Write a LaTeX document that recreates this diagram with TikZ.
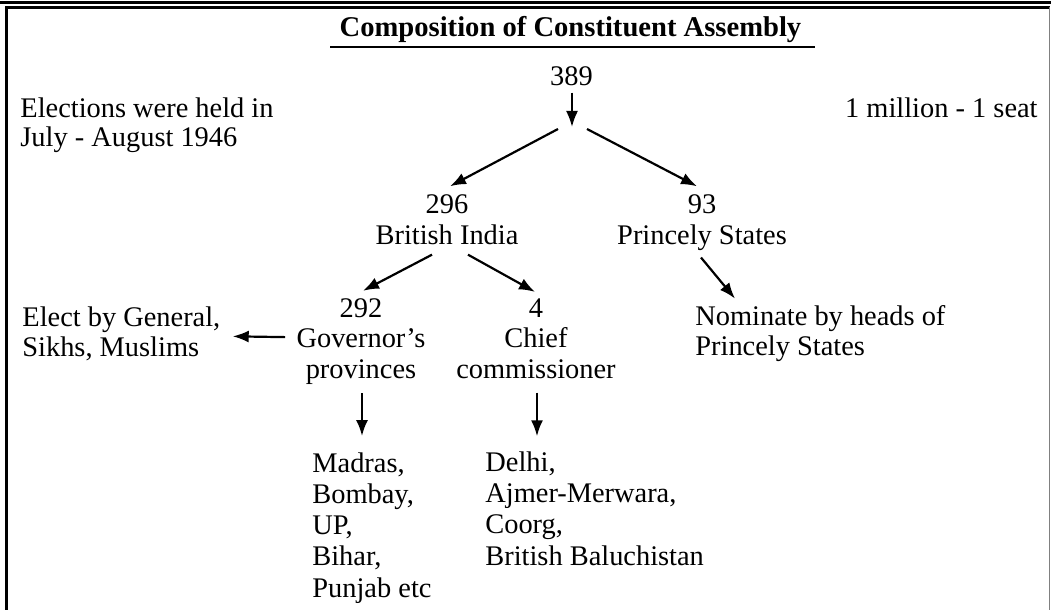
\documentclass[tikz,border=0pt]{standalone}
\usepackage{fontspec}
\setmainfont{Liberation Serif}
\usetikzlibrary{arrows.meta}
\usetikzlibrary{calc}
\tikzset{>={Latex[length=8pt,width=6pt]}}
\tikzset{
    tree/.style={inner sep=0pt, anchor=base, align=center, font=\fontsize{14.2}{15.5}\selectfont},
    side/.style={inner sep=0pt, anchor=base west, align=left, font=\fontsize{14.2}{15}\selectfont},
    seats arrow/.style={->, line width=1.1pt}
}

\begin{document}
\begin{tikzpicture}[x=0.5pt, y=-0.5pt]
    \useasboundingbox (0, 0) rectangle (1051, 610);
    % frame
    \draw[line width=1.5pt] (0, 2.5) -- (1051, 2.5);
    \draw[line width=1.5pt] (6.5, 612) -- (6.5, 7.5) -- (1049.5, 7.5);
    \draw[gray, line width=0.75pt] (1049.5, 7.5) -- (1049.5, 612);

    \node[tree, font=\fontsize{14.3}{15.5}\selectfont\bfseries] (title) at (570.5, 37) {Composition of Constituent Assembly};
    \draw[line width=1pt] (330, 47) -- (815, 47);

    \node[side, font=\fontsize{14.2}{14.5}\selectfont] (elections) at (20, 147) {Elections were held in\\July - August 1946};
    \node[side, anchor=base east] (seat) at (1038, 118) {1 million - 1 seat};

    \node[tree] (total) at (571.5, 86) {389};
    \coordinate (split) at (572, 127);
    \node[tree] (bi) at (447, 244) {296\\British India};
    \node[tree] (ps) at (702, 244) {93\\Princely States};
    \node[tree] (gov) at (361, 379) {292\\Governor's\\provinces};
    \node[tree] (cc) at (536, 379) {4\\Chief\\commissioner};
    \node[side] (elect) at (22, 357) {Elect by General,\\Sikhs, Muslims};
    \node[side] (nom) at (695, 356) {Nominate by heads of\\Princely States};
    \node[side, font=\fontsize{14.2}{15.6}\selectfont] (govlist) at (312, 597) {Madras,\\Bombay,\\UP,\\Bihar,\\Punjab etc};
    \node[side, font=\fontsize{14.2}{15.6}\selectfont] (cclist) at (485, 565) {Delhi,\\Ajmer-Merwara,\\Coorg,\\British Baluchistan};

    \draw[seats arrow] ($(total.south)+(0.5, 6)$) -- (split);
    \draw[seats arrow] ($(split)+(-14, 2)$) -- ($(bi.north)+(3, -7.5)$);
    \draw[seats arrow] ($(split)+(15, 2)$) -- ($(ps.north)+(-5, -7.5)$);
    \draw[seats arrow] ($(bi.south)+(-15, 10)$) -- ($(gov.north)+(2, -7)$);
    \draw[seats arrow] ($(bi.south)+(21, 10)$) -- ($(cc.north)+(-1, -6)$);
    \draw[seats arrow] ($(ps.south)+(-1, 7)$) -- ($(nom.north west)+(40, -7)$);
    \draw[seats arrow] ($(gov.west)+(-11, -4.5)$) -- ($(elect.east)+(12, 2)$);
    \draw[seats arrow] ($(gov.south)+(1, 8)$) -- ($(govlist.north west)+(50, -16)$);
    \draw[seats arrow] ($(cc.south)+(1, 13)$) -- ($(cclist.north west)+(52, -15)$);
\end{tikzpicture}
\end{document}
